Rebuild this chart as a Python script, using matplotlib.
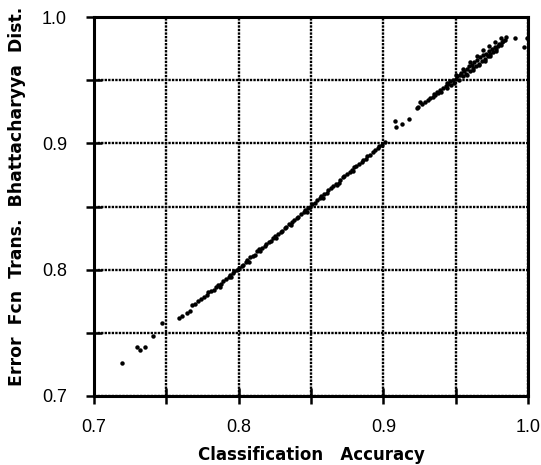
import matplotlib
matplotlib.use("Agg")
import matplotlib.pyplot as plt

# sparse points at the low end
low_x = [0.719, 0.7295, 0.7318, 0.7353, 0.741, 0.747, 0.759, 0.761, 0.764, 0.766, 0.768, 0.770, 0.772]
low_y = [0.726, 0.739, 0.7364, 0.739, 0.7475, 0.758, 0.762, 0.763, 0.766, 0.767, 0.772, 0.773, 0.775]

# dense run along the diagonal, 0.775 - 0.90
mid_x = [0.774, 0.776, 0.778, 0.779, 0.781, 0.783, 0.784, 0.786, 0.788, 0.789,
         0.791, 0.793, 0.794, 0.796, 0.797, 0.799, 0.800, 0.802, 0.803, 0.805,
         0.806, 0.808, 0.810, 0.811, 0.813, 0.814, 0.816, 0.818, 0.819, 0.821,
         0.822, 0.824, 0.825, 0.827, 0.829, 0.830, 0.832, 0.833, 0.835, 0.837,
         0.838, 0.840, 0.841, 0.843, 0.845, 0.846, 0.848, 0.849, 0.851, 0.853,
         0.854, 0.856, 0.857, 0.859, 0.861, 0.862, 0.864, 0.865, 0.867, 0.869,
         0.870, 0.872, 0.873, 0.875, 0.877, 0.878, 0.880, 0.881, 0.883, 0.885,
         0.886, 0.888, 0.889, 0.891, 0.893, 0.894, 0.896, 0.897, 0.899, 0.901,
         0.787, 0.795, 0.807, 0.815, 0.826, 0.836, 0.847, 0.858, 0.868, 0.879]
mid_y = [0.777, 0.778, 0.780, 0.782, 0.783, 0.784, 0.786, 0.788, 0.789, 0.791,
         0.793, 0.794, 0.796, 0.797, 0.799, 0.800, 0.801, 0.803, 0.804, 0.806,
         0.808, 0.810, 0.811, 0.812, 0.815, 0.816, 0.817, 0.819, 0.820, 0.822,
         0.823, 0.825, 0.827, 0.828, 0.830, 0.831, 0.833, 0.834, 0.836, 0.838,
         0.839, 0.841, 0.842, 0.844, 0.846, 0.847, 0.849, 0.850, 0.852, 0.853,
         0.855, 0.857, 0.858, 0.860, 0.861, 0.863, 0.865, 0.866, 0.868, 0.869,
         0.871, 0.873, 0.874, 0.876, 0.877, 0.879, 0.881, 0.882, 0.884, 0.885,
         0.887, 0.888, 0.890, 0.891, 0.893, 0.895, 0.896, 0.898, 0.899, 0.901,
         0.786, 0.794, 0.806, 0.815, 0.825, 0.835, 0.846, 0.857, 0.867, 0.878]

# upper cluster, 0.905 - 1.0
high_x = [0.908, 0.909, 0.913, 0.918, 0.923, 0.924, 0.925, 0.927, 0.929, 0.931,
          0.932, 0.934, 0.935, 0.936, 0.937, 0.939, 0.940, 0.941, 0.943, 0.944,
          0.945, 0.946, 0.947, 0.948, 0.949, 0.950, 0.951, 0.952, 0.953, 0.954,
          0.955, 0.956, 0.957, 0.958, 0.959, 0.960, 0.961, 0.962, 0.963, 0.964,
          0.965, 0.966, 0.967, 0.968, 0.969, 0.970, 0.971, 0.972, 0.973, 0.974,
          0.975, 0.976, 0.977, 0.978, 0.979, 0.980, 0.981, 0.982, 0.983, 0.984,
          0.985, 0.958, 0.962, 0.966, 0.970, 0.974, 0.978, 0.991, 0.997, 0.999,
          0.944, 0.950, 0.955, 0.960, 0.965, 0.969, 0.973, 0.977, 0.981, 0.938]
high_y = [0.918, 0.913, 0.915, 0.919, 0.928, 0.929, 0.933, 0.931, 0.933, 0.934,
          0.936, 0.937, 0.939, 0.938, 0.941, 0.942, 0.941, 0.944, 0.945, 0.944,
          0.947, 0.949, 0.946, 0.950, 0.948, 0.951, 0.953, 0.950, 0.954, 0.956,
          0.953, 0.957, 0.955, 0.959, 0.961, 0.957, 0.962, 0.960, 0.964, 0.961,
          0.966, 0.963, 0.968, 0.965, 0.970, 0.967, 0.971, 0.969, 0.973, 0.971,
          0.975, 0.972, 0.976, 0.975, 0.977, 0.979, 0.978, 0.980, 0.981, 0.982,
          0.984, 0.954, 0.958, 0.962, 0.965, 0.969, 0.973, 0.983, 0.976, 0.983,
          0.948, 0.954, 0.959, 0.964, 0.969, 0.974, 0.977, 0.980, 0.983, 0.940]

major_ticks = [0.7, 0.8, 0.9, 1.0]
minor_ticks = [0.75, 0.85, 0.95]
tick_text = ["0.7", "0.8", "0.9", "1.0"]

fig = plt.figure(figsize=(5.41, 4.65), dpi=100)
ax = fig.add_axes([0.1738, 0.1484, 0.8022, 0.815])

for xs, ys in [(low_x, low_y), (mid_x, mid_y), (high_x, high_y)]:
    ax.plot(xs, ys, "o", color="black", markersize=3.2, markeredgewidth=0)

ax.set_xlim(0.7, 1.0)
ax.set_ylim(0.7, 1.0)
ax.set_xticks(major_ticks)
ax.set_yticks(major_ticks)
ax.set_xticks(minor_ticks, minor=True)
ax.set_yticks(minor_ticks, minor=True)
ax.set_xticklabels(tick_text)
ax.set_yticklabels(tick_text)

# wavy dotted grid of the scan
ax.grid(True, which="both", color="black", linestyle=(0, (1.0, 0.5)), linewidth=1.7)
ax.set_axisbelow(True)

for s in ax.spines.values():
    s.set_linewidth(2.2)

ax.tick_params(which="both", direction="inout", length=11, width=1.8,
               top=False, right=False, labelsize=13)
ax.tick_params(axis="x", which="both", pad=11)
ax.tick_params(axis="y", which="both", pad=14)
for lab in ax.get_xticklabels() + ax.get_yticklabels():
    lab.set_family("Liberation Sans")

ax.set_xlabel("Classification   Accuracy", fontsize=12, fontweight="bold",
              family="DejaVu Sans", labelpad=7)
ax.set_ylabel("Error  Fcn  Trans.  Bhattacharyya  Dist.", fontsize=12.4,
              fontweight="bold", family="DejaVu Sans")
ax.yaxis.set_label_coords(-0.156, 0.526)

fig.savefig("out.png", dpi=100)
